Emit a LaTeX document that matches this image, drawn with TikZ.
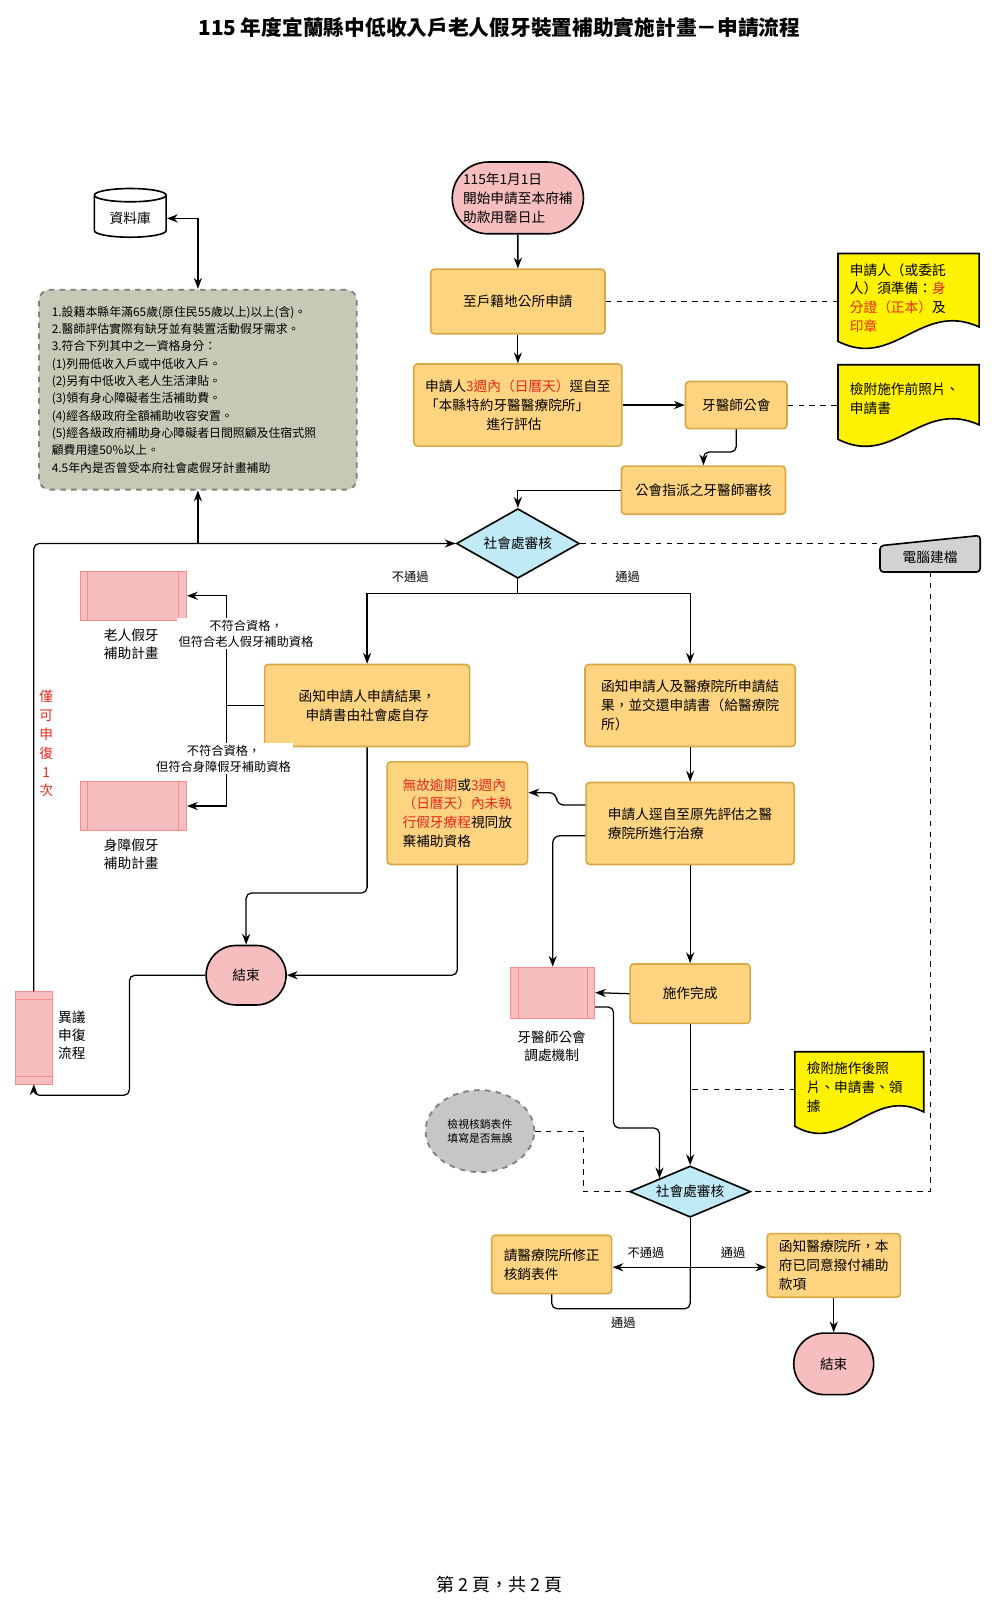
\documentclass[tikz,border=0pt]{standalone}
\usepackage{fontspec}
\setmainfont{Noto Sans CJK TC}
\usetikzlibrary{arrows.meta,shapes.geometric,shapes.misc,calc}

\definecolor{boxfill}{RGB}{255,212,128}
\definecolor{boxline}{RGB}{215,168,70}
\definecolor{pinkfill}{RGB}{246,190,190}
\definecolor{decfill}{RGB}{192,234,246}
\definecolor{critfill}{RGB}{200,200,182}
\definecolor{redtxt}{RGB}{230,40,30}

\tikzset{
  box/.style={draw=boxline, fill=boxfill, line width=0.9pt, rounded corners=2pt,
    font=\fontsize{7.6}{10.5}\selectfont, inner sep=3pt},
  term/.style={draw, fill=pinkfill, rounded rectangle, line width=0.9pt,
    font=\fontsize{7.6}{10.5}\selectfont, inner sep=2pt},
  dec/.style={diamond, draw, fill=decfill, line width=0.9pt, aspect=2.3,
    font=\fontsize{7.6}{10}\selectfont, inner sep=1pt},
  docu/.style={font=\fontsize{7.6}{10.5}\selectfont, align=left, inner sep=3pt},
  lbl/.style={font=\fontsize{6.8}{9}\selectfont, align=left},
  arr/.style={-{Stealth[length=6pt]}, line width=0.7pt},
  ln/.style={line width=0.7pt},
  dsh/.style={dashed, line width=0.6pt},
}

\begin{document}
\begin{tikzpicture}[x=0.02cm, y=-0.02cm]
  \useasboundingbox (0,0) rectangle (975,1571);

  % title and footer
  \node[font=\bfseries\fontsize{11.5}{14}\selectfont] (title) at (487,27) {115 年度宜蘭縣中低收入戶老人假牙裝置補助實施計畫－申請流程};
  \node[font=\fontsize{10}{12}\selectfont] (foot) at (487,1545) {第 2 頁，共 2 頁};

  % database
  \node[cylinder, shape border rotate=90, draw, line width=0.9pt, aspect=0.25,
    minimum width=1.4cm, minimum height=0.95cm, font=\fontsize{7.6}{9}\selectfont] (db) at (127,213) {資料庫};

  % criteria
  \node[draw=gray, dashed, fill=critfill, rounded corners=6pt, line width=1pt,
    text width=5.7cm, minimum width=6.2cm, minimum height=3.9cm, align=left,
    font=\fontsize{6.6}{9.6}\selectfont] (crit) at (193,380) {
    1.設籍本縣年滿65歲(原住民55歲以上)以上(含)。\\
    2.醫師評估實際有缺牙並有裝置活動假牙需求。\\
    3.符合下列其中之一資格身分：\\
    (1)列冊低收入戶或中低收入戶。\\
    (2)另有中低收入老人生活津貼。\\
    (3)領有身心障礙者生活補助費。\\
    (4)經各級政府全額補助收容安置。\\
    (5)經各級政府補助身心障礙者日間照顧及住宿式照\\
    顧費用達50\%以上。\\
    4.5年內是否曾受本府社會處假牙計畫補助};

  % main column
  \node[term, minimum width=2.7cm, minimum height=1.4cm, align=left] (st) at (505,193)
    {115年1月1日\\開始申請至本府補\\助款用罄日止};
  \node[box, minimum width=3.4cm, minimum height=1.26cm] (b1) at (505,294) {至戶籍地公所申請};
  \node[box, minimum width=4.06cm, minimum height=1.6cm, align=left] (b2) at (505,395)
    {申請人\textcolor{redtxt}{3週內（日曆天）}逕自至\\「本縣特約牙醫醫療院所」\\\hspace*{4.5em}進行評估};
  \node[box, minimum width=1.98cm, minimum height=0.92cm] (gh) at (718,395) {牙醫師公會};
  \node[box, minimum width=3.2cm, minimum height=0.94cm] (pz) at (686,478) {公會指派之牙醫師審核};
  \node[dec, minimum width=2.4cm, minimum height=1.36cm] (d1) at (505,530) {社會處審核};

  % documents
  \node[minimum width=2.74cm, minimum height=1.7cm] (dA) at (886,290) {};
  \node[minimum width=2.74cm, minimum height=1.44cm] (dB) at (886,392) {};
  \node[minimum width=2.5cm, minimum height=1.44cm] (dC) at (838,1062) {};
  \foreach \n in {dA,dB,dC}
    \draw[fill=yellow, line width=0.9pt] (\n.north west) -- (\n.north east)
      -- ($(\n.south east)+(0,-14)$) .. controls ($(\n.south)+(12,-40)$) and ($(\n.south)+(-14,28)$) .. (\n.south west) -- cycle;
  \node[docu, anchor=north west] (dAt) at ($(dA.north west)+(6,4)$)
    {申請人（或委託\\人）須準備：\textcolor{redtxt}{身}\\\textcolor{redtxt}{分證（正本）}及\\\textcolor{redtxt}{印章}};
  \node[docu, anchor=north west] (dBt) at ($(dB.north west)+(6,12)$)
    {檢附施作前照片、\\申請書};
  \node[docu, anchor=north west] (dCt) at ($(dC.north west)+(6,4)$)
    {檢附施作後照\\片、申請書、領\\據};

  % computer entry
  \node[minimum width=1.94cm, minimum height=0.7cm] (pc) at (907,540) {};
  \draw[fill=gray!35, line width=0.9pt, rounded corners=2pt] (pc.south west) -- ($(pc.north west)+(0,10)$) -- (pc.north east) -- (pc.south east) -- cycle;
  \node[font=\fontsize{7.6}{9}\selectfont] (pct) at ($(pc.center)+(0,3)$) {電腦建檔};

  % outcome boxes
  \node[box, minimum width=4cm, minimum height=1.6cm, align=center] (n1) at (358,688)
    {函知申請人申請結果，\\申請書由社會處自存};
  \node[box, minimum width=4.1cm, minimum height=1.6cm, align=left] (n2) at (673,688)
    {函知申請人及醫療院所申請結\\果，並交還申請書（給醫療院\\所）};
  \node[box, minimum width=4.06cm, minimum height=1.6cm, align=left] (tr) at (673,803)
    {申請人逕自至原先評估之醫\\療院所進行治療};
  \node[box, minimum width=2.74cm, minimum height=2cm, align=left] (gq) at (446,793)
    {\textcolor{redtxt}{無故逾期}或\textcolor{redtxt}{3週內}\\\textcolor{redtxt}{（日曆天）內未執}\\\textcolor{redtxt}{行假牙療程}視同放\\棄補助資格};
  \node[box, minimum width=2.34cm, minimum height=1.16cm] (fin) at (673,969) {施作完成};

  % predefined processes
  \foreach \n/\x/\y/\w/\h in {old/130/581/2.08/0.96, dis/130/786/2.08/0.96, md/539/968/1.64/1, ob/33/1012/0.74/1.8} {
    \node[draw=red!45, fill=pinkfill, minimum width=\w cm, minimum height=\h cm] (\n) at (\x,\y) {};
  }
  \foreach \n in {old,dis,md}
    \draw[red!45] ($(\n.north west)+(8,0)$) -- ($(\n.south west)+(8,0)$) ($(\n.north east)+(-8,0)$) -- ($(\n.south east)+(-8,0)$);
  \draw[red!45] ($(ob.north west)+(0,8)$) -- ($(ob.north east)+(0,8)$) ($(ob.south west)+(0,-8)$) -- ($(ob.south east)+(0,-8)$);
  \node[lbl, font=\fontsize{7.6}{10}\selectfont, align=center] (oldl) at (128,628) {老人假牙\\補助計畫};
  \node[lbl, font=\fontsize{7.6}{10}\selectfont, align=center] (disl) at (128,833) {身障假牙\\補助計畫};
  \node[lbl, font=\fontsize{7.6}{10}\selectfont, align=center] (mdl) at (538,1020) {牙醫師公會\\調處機制};
  \node[lbl, font=\fontsize{7.6}{10}\selectfont, align=left] (obl) at (70,1010) {異議\\申復\\流程};

  % end terminals
  \node[term, minimum width=1.7cm, minimum height=1.16cm] (e1) at (240,951) {結束};
  \node[term, minimum width=1.7cm, minimum height=1.2cm] (e2) at (813,1330) {結束};

  % lower part
  \node[ellipse, draw=gray, dashed, fill=gray!45, line width=1pt, minimum width=2cm, minimum height=1.6cm,
    align=center, font=\fontsize{6}{8}\selectfont] (ck) at (468,1103) {檢視核銷表件\\填寫是否無誤};
  \node[dec, minimum width=2.36cm, minimum height=1cm] (d2) at (673,1162) {社會處審核};
  \node[box, minimum width=2.34cm, minimum height=1.14cm, align=left] (fx) at (538,1233) {請醫療院所修正\\核銷表件};
  \node[box, minimum width=2.6cm, minimum height=1.24cm, align=left] (nt) at (813,1234) {函知醫療院所，本\\府已同意撥付補助\\款項};

  \node[text=redtxt, font=\fontsize{7.6}{10.5}\selectfont, align=center] (once) at (45,725) {僅\\可\\申\\復\\1\\次};

  % connectors: top
  \draw[{Stealth[length=6pt]}-{Stealth[length=6pt]}, line width=0.7pt] (db.east) -| (crit.north);
  \draw[arr] (st) -- (b1);
  \draw[arr] (b1) -- (b2);
  \draw[arr] (b2.east |- gh.west) -- (gh.west);
  \draw[arr, rounded corners=3pt] (gh.south) -- ++(0,22) -| (pz.north);
  \draw[arr] (pz.west) -| (d1.north);
  \draw[dsh] (b1.east) -- (dA.west |- b1.east);
  \draw[dsh] (gh.east) -- (dB.west |- gh.east);
  \draw[dsh] (d1.east) -- (pc.west |- d1.east);
  \draw[dsh] (pc.south) |- (d2.east);

  % connectors: decision 1
  \draw[arr] (d1.south) -- ++(0,14) -| (n1.north);
  \draw[arr] (d1.south) -- ++(0,14) -| (n2.north);
  \node[lbl] (l1) at (400,563) {不通過};
  \node[lbl] (l2) at (612,563) {通過};

  \coordinate (j1) at ($(n1.west)+(-36,0)$);
  \draw[ln] (n1.west) -- (j1);
  \draw[arr] (j1) |- (old.east);
  \draw[arr] (j1) |- (dis.east);
  \node[lbl, align=center, fill=white, inner sep=1pt] (l3) at (240,618) {不符合資格，\\但符合老人假牙補助資格};
  \node[lbl, align=center, fill=white, inner sep=1pt] (l4) at (218,740) {不符合資格，\\但符合身障假牙補助資格};

  \draw[arr] (n2) -- (tr);
  \draw[arr, rounded corners=4pt] ($(tr.west)+(0,-18)$) -- ++(-28,0) |- ($(gq.east)+(0,-20)$);
  \draw[arr, rounded corners=4pt] ($(tr.west)+(0,12)$) -| (md.north);
  \draw[arr, rounded corners=3pt] (n1.south) -- ++(0,142) -| (e1.north);
  \draw[arr, rounded corners=3pt] (gq.south) |- (e1.east);
  \draw[arr, rounded corners=3pt] (e1.west) -- ++(-74,0) -- ++(0,117) -| (ob.south);
  \draw[arr, rounded corners=3pt] (ob.north) |- (d1.west);
  \draw[arr] (crit.south |- d1.west) -- (crit.south);

  % connectors: lower
  \draw[arr] (tr.south) -- (fin.north);
  \draw[arr] (fin.west) -- (md.east);
  \draw[arr, rounded corners=3pt] ($(md.east)+(0,14)$) -- ++(18,0) -- ++(0,118) -| (d2.north west);
  \draw[arr] (fin.south) -- (d2.north);
  \draw[dsh] (dC.west) -- (dC.west -| fin.south);
  \draw[dsh] (ck.east) -- ++(47,0) |- (d2.west);
  \coordinate (j2) at ($(d2.south)+(0,48)$);
  \draw[ln] (d2.south) -- (j2);
  \draw[arr] (j2) -- (fx.east |- j2);
  \draw[arr] (j2) -- (nt.west |- j2);
  \draw[ln, rounded corners=3pt] (fx.south) -- ++(0,14) -| (j2);
  \node[lbl] (l5) at (630,1222) {不通過};
  \node[lbl] (l6) at (715,1222) {通過};
  \node[lbl] (l7) at (608,1290) {通過};
  \draw[arr] (nt.south) -- (e2.north);
\end{tikzpicture}
\end{document}
